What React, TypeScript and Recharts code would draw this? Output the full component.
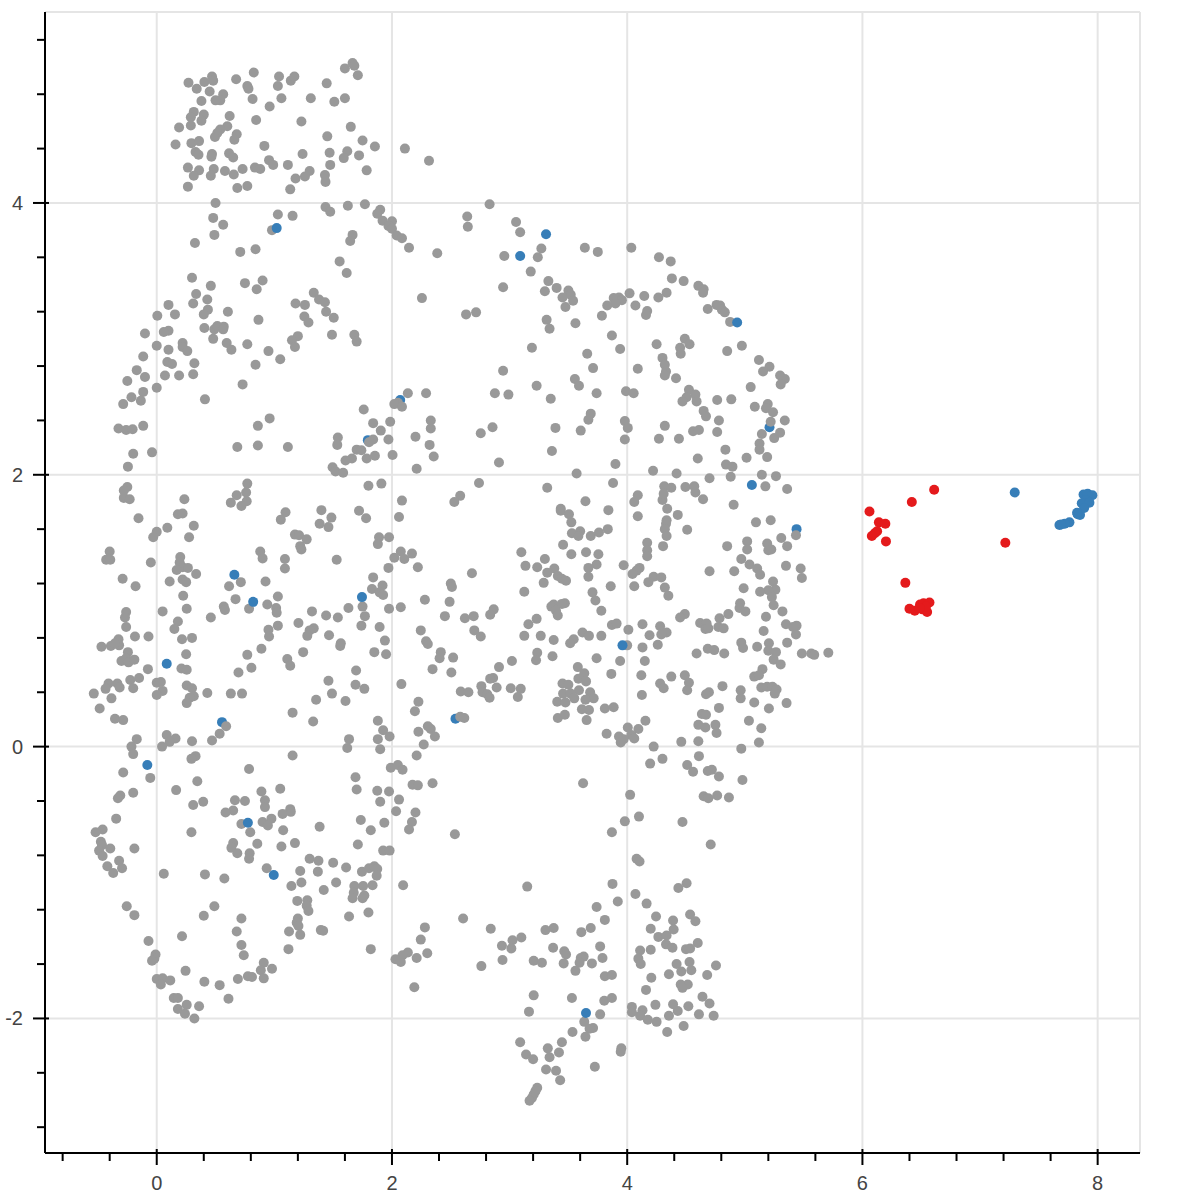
import { CartesianGrid, Scatter, ScatterChart, XAxis, YAxis } from "recharts";

type Pt = [number, number];

const xTicks = [-0.8, -0.4, 0, 0.4, 0.8, 1.2, 1.6, 2, 2.4, 2.8, 3.2, 3.6, 4, 4.4, 4.8, 5.2, 5.6, 6, 6.4, 6.8, 7.2, 7.6, 8];
const yTicks = [-2.8, -2.4, -2, -1.6, -1.2, -0.8, -0.4, 0, 0.4, 0.8, 1.2, 1.6, 2, 2.4, 2.8, 3.2, 3.6, 4, 4.4, 4.8, 5.2];
const xDomain = [-0.95, 8.36];
const yDomain = [-2.99, 5.405];
const xGrid = [0, 2, 4, 6, 8, 8.36];
const yGrid = [-2, 0, 2, 4, 5.405];

const grayTop: Pt[] = [
  [.27,4.885],[.34,4.84],[.405,4.89],[.47,4.93],[.48,4.90],[.45,4.82],[.675,4.91],[.825,4.96],[.77,4.86],[.78,4.84],
  [1.04,4.93],[1.03,4.86],[1.14,4.90],[1.17,4.93],[1.445,4.88],[1.60,4.99],[1.665,5.03],[1.68,5.01],[1.71,4.94],[.565,4.80],
  [.54,4.755],[.50,4.755],[.38,4.75],[.815,4.765],[1.06,4.77],[1.31,4.77],[1.51,4.745],[1.60,4.77],[.96,4.71],[.315,4.67],
  [.29,4.63],[.40,4.65],[.38,4.605],[.62,4.64],[.845,4.61],[1.23,4.60],[.19,4.555],[.29,4.57],[.60,4.565],[.54,4.54],
  [.515,4.515],[.495,4.485],[.68,4.505],[.66,4.465],[1.65,4.56],[1.45,4.49],[.16,4.43],[.295,4.44],[.36,4.455],[.915,4.42],
  [1.75,4.46],[1.855,4.415],[.33,4.375],[.355,4.355],[.47,4.36],[.465,4.34],[.615,4.365],[.65,4.335],[1.24,4.36],[1.47,4.37],
  [1.62,4.38],[1.59,4.33],[1.72,4.35],[.955,4.315],[.99,4.28],[1.115,4.28],[1.475,4.28],[.265,4.26],[.36,4.24],[.315,4.20],
  [.485,4.25],[.46,4.20],[.58,4.235],[.655,4.21],[.73,4.25],[.835,4.26],[.88,4.25],[1.30,4.235],[1.26,4.195],[1.18,4.18],
  [1.785,4.24],[1.43,4.205],[1.435,4.155],[.265,4.12],[.685,4.11],[.77,4.125],[1.135,4.10],[2.11,4.40],[2.315,4.31],
  [.50,4.00],[1.435,3.97],[1.475,3.935],[1.625,3.98],[1.77,3.99],[1.90,3.95],[1.875,3.92],[.48,3.89],[.565,3.84],[1.03,3.915],
  [1.155,3.905],[.98,3.80],[1.92,3.87],[2.00,3.865],[1.97,3.83],[2.00,3.81],[2.04,3.76],[2.085,3.74],[.49,3.765],[.325,3.705],
  [1.665,3.765],[1.645,3.72],[.71,3.64],[.84,3.66],[1.555,3.57],[1.615,3.485],[.30,3.45],[.46,3.39],[.75,3.41],[.90,3.43],
  [.85,3.365],[.335,3.33],[.43,3.29],[1.335,3.34],[2.145,3.67],[2.385,3.63],
];

const grayUpperLeft: Pt[] = [
  [.31,3.26],[.435,3.215],[.40,3.18],[.605,3.20],[.10,3.25],[.155,3.18],[.005,3.17],[.865,3.14],[1.18,3.26],[1.26,3.25],
  [1.38,3.29],[1.43,3.27],[1.44,3.20],[1.255,3.165],[1.29,3.12],[1.505,3.155],[.405,3.08],[.49,3.07],[.515,3.095],[.57,3.09],
  [.565,3.07],[.10,3.06],[.06,3.05],[-.10,3.04],[1.68,3.03],[1.70,2.98],[1.49,3.03],[1.20,3.02],[1.15,2.99],[1.175,2.94],
  [.48,3.00],[.595,2.97],[.635,2.92],[.77,2.96],[.95,2.91],[1.05,2.85],[.84,2.81],[0,2.95],[.22,2.97],[.22,2.94],
  [.26,2.91],[.10,2.92],[-.115,2.87],[.09,2.83],[.13,2.815],[.32,2.82],[-.17,2.77],[-.10,2.72],[.07,2.73],[.19,2.73],
  [.31,2.74],[-.25,2.69],[-.115,2.61],[0,2.64],[-.215,2.57],[-.135,2.545],[-.285,2.52],[.73,2.665],[.41,2.555],[2.135,2.60],
  [2.05,2.53],[2.02,2.52],[2.085,2.50],[1.76,2.48],[1.84,2.38],[1.985,2.39],[1.905,2.325],[1.97,2.26],[2.20,2.28],[.96,2.415],
  [.86,2.36],[-.325,2.34],[-.26,2.33],[-.205,2.335],[-.115,2.36],[1.54,2.275],[1.535,2.22],[1.84,2.26],[1.805,2.24],[.685,2.205],
  [.86,2.215],[1.115,2.205],[-.20,2.155],[-.04,2.165],[1.70,2.185],[1.74,2.18],[2.005,2.145],[1.785,2.12],[1.855,2.14],[1.66,2.12],
  [1.605,2.105],[-.245,2.06],[1.495,2.055],[1.52,2.025],[1.585,2.015],[2.21,2.045],[-.25,1.91],[-.28,1.885],[-.28,1.83],[-.23,1.82],
  [.77,1.935],[.76,1.87],[.68,1.85],[.765,1.805],[.72,1.77],[.63,1.795],[.235,1.82],[1.80,1.92],[1.91,1.935],[2.085,1.81],
  [1.095,1.725],[1.055,1.67],[1.40,1.74],[1.485,1.685],[1.385,1.64],[1.46,1.615],[1.72,1.735],[1.78,1.68],[2.06,1.69],[-.155,1.68],
  [.18,1.71],[.22,1.715],[.09,1.61],[.315,1.625],[0,1.58],[-.03,1.54],[.275,1.54],[1.175,1.56],[1.21,1.555],[1.275,1.525],
  [1.89,1.54],[1.975,1.54],
];

const grayMiddleLeft: Pt[] = [
  [1.88,1.49],[1.22,1.475],[1.23,1.45],[-.40,1.435],[-.43,1.375],[-.395,1.375],[-.05,1.355],[.20,1.395],[.195,1.355],[.22,1.32],
  [.265,1.315],[.17,1.30],[.335,1.27],[-.29,1.235],[-.18,1.18],[.11,1.215],[.22,1.23],[.25,1.21],[.88,1.435],[.90,1.385],
  [1.09,1.38],[1.09,1.31],[1.53,1.375],[.715,1.21],[.615,1.18],[.925,1.215],[2.075,1.435],[2.02,1.39],[2.105,1.38],[2.17,1.42],
  [2.22,1.32],[1.97,1.315],[1.84,1.245],[1.92,1.185],[1.83,1.16],[1.895,1.135],[1.925,1.115],[1.75,1.03],[1.63,1.02],[1.77,.96],
  [1.54,.95],[1.44,.965],[1.32,.995],[1.975,1.015],[2.075,1.025],[.225,1.11],[.255,1.015],[.05,.995],[-.26,.99],[-.27,.95],
  [-.26,.88],[.67,1.085],[.57,1.03],[.58,1.005],[.46,.95],[.785,1.015],[.94,1.045],[1.03,1.105],[1.015,1.02],[1.02,.985],
  [1.03,.89],[1.205,.91],[.95,.86],[.955,.81],[1.335,.87],[1.30,.855],[1.28,.815],[1.465,.82],[1.74,.89],[1.895,.88],
  [1.94,.78],[1.565,.76],[1.56,.74],[1.85,.695],[1.95,.68],[.18,.92],[.15,.865],[.215,.79],[.30,.80],[-.185,.81],
  [-.07,.81],[-.325,.79],[-.32,.745],[-.39,.74],[-.47,.735],[-.355,.76],[-.245,.695],[.25,.68],[.89,.72],[.77,.675],
  [1.245,.695],[1.11,.645],[1.135,.595],[-.30,.63],[-.26,.65],[-.24,.62],[-.19,.64],[-.075,.57],[.21,.575],[.255,.565],
  [.805,.58],[.695,.545],[1.695,.56],[1.46,.485],[1.69,.455],[1.765,.425],[2.08,.46],[-.41,.465],[-.335,.465],[-.315,.435],
  [-.435,.425],[-.535,.39],[-.225,.49],[-.15,.505],[-.20,.43],[-.385,.355],[-.485,.28],[0,.47],[.035,.475],[.05,.41],
  [0,.38],[.255,.45],[.30,.43],[.315,.37],[.28,.36],[.255,.32],[.43,.395],[.63,.39],[.725,.39],[1.49,.39],
  [1.355,.345],[1.605,.335],[2.225,.33],[2.195,.26],[1.155,.25],[1.33,.185],[1.88,.19],[2.225,.11],[-.355,.205],[-.285,.195],
  [.59,.15],[.535,.095],[.47,.045],[1.925,.12],[1.98,.075],[1.88,.055],[1.635,.055],[-.17,.055],[-.215,0],[-.20,-.055],
  [.085,.085],[.16,.06],[.11,.035],[.045,0],[.30,.04],[1.62,-.01],[1.90,-.02],[1.155,-.065],[2.21,-.065],[.33,-.07],[.295,-.09],
];

const grayLowerLeft: Pt[] = [
  [1.99,-.155],[2.05,-.135],[2.09,-.17],[.785,-.165],[-.285,-.19],[-.055,-.23],[1.69,-.225],[.345,-.255],[.165,-.32],[1.70,-.315],
  [2.175,-.28],[2.22,-.285],[1.875,-.325],[1.975,-.33],[-.20,-.34],[-.31,-.36],[-.33,-.38],[.89,-.33],[1.05,-.31],[.665,-.395],
  [.75,-.40],[.92,-.395],[.92,-.445],[.395,-.405],[.31,-.43],[2.06,-.39],[1.90,-.405],[1.135,-.46],[1.14,-.48],[1.07,-.495],
  [.65,-.47],[.585,-.485],[2.035,-.475],[2.20,-.485],[-.345,-.53],[1.735,-.54],[1.935,-.56],[2.17,-.555],[2.145,-.61],[1.82,-.615],
  [1.385,-.59],[.90,-.555],[.975,-.53],[.945,-.58],[.72,-.57],[.795,-.63],[1.075,-.615],[-.46,-.61],[-.52,-.63],[.295,-.63],
  [-.475,-.70],[-.465,-.725],[-.49,-.765],[-.395,-.75],[-.46,-.805],[-.19,-.75],[.65,-.71],[.635,-.745],[.685,-.785],[.855,-.715],
  [1.06,-.735],[1.175,-.71],[1.71,-.72],[.79,-.785],[.785,-.825],[1.925,-.765],[1.98,-.765],[-.32,-.84],[-.42,-.88],[-.295,-.895],
  [-.37,-.93],[1.30,-.825],[1.375,-.84],[1.50,-.855],[1.61,-.89],[.935,-.895],[1.22,-.915],[1.37,-.92],[1.745,-.92],[1.805,-.895],
  [1.85,-.88],[1.875,-.90],[1.87,-.95],[.06,-.935],[.41,-.94],[.575,-.97],[1.23,-1.0],[1.145,-1.025],[1.525,-1.0],[1.42,-1.055],
  [1.68,-1.025],[1.755,-1.025],[1.835,-1.02],[2.095,-1.02],[1.675,-1.075],[1.765,-1.095],[1.665,-1.115],[1.75,-1.115],[1.28,-1.13],[1.195,-1.135],
  [1.275,-1.17],[1.29,-1.21],[-.255,-1.175],[-.19,-1.24],[.49,-1.175],[.40,-1.245],[.72,-1.265],[1.635,-1.25],[1.80,-1.22],[1.20,-1.265],
  [1.19,-1.295],[1.205,-1.32],[1.125,-1.36],[1.22,-1.385],[1.395,-1.35],[1.415,-1.355],[.68,-1.36],[.215,-1.395],[-.07,-1.43],[.72,-1.46],
  [1.12,-1.49],[1.82,-1.49],[2.245,-1.42],[.74,-1.535],[-.01,-1.53],[-.02,-1.56],[-.04,-1.575],[2.135,-1.515],[2.09,-1.535],[2.03,-1.565],
  [2.075,-1.585],[2.21,-1.555],[.91,-1.59],[.98,-1.635],[.885,-1.645],[.245,-1.65],[0,-1.71],[.05,-1.705],[.115,-1.72],[.035,-1.75],
  [.405,-1.73],[.535,-1.755],[.69,-1.71],[.775,-1.69],[.81,-1.695],[.91,-1.705],[2.19,-1.77],[.145,-1.85],[.18,-1.85],[.61,-1.855],
  [.255,-1.90],[.18,-1.93],[.24,-1.965],[.36,-1.91],[.32,-2.0],
];

const grayUpperRight: Pt[] = [
  [2.83,3.99],[2.64,3.90],[2.645,3.825],[3.055,3.86],[3.09,3.785],[2.955,3.61],[3.27,3.665],[3.24,3.60],[3.18,3.495],[3.64,3.67],
  [3.75,3.64],[4.035,3.67],[4.27,3.60],[4.37,3.57],[4.38,3.445],[4.48,3.425],[3.33,3.425],[2.945,3.38],[3.30,3.35],[3.40,3.375],
  [3.50,3.355],[3.52,3.325],[3.45,3.305],[3.54,3.28],[3.475,3.235],[2.255,3.30],[2.63,3.18],[2.715,3.195],[4.02,3.335],[3.93,3.305],
  [3.885,3.30],[3.955,3.285],[3.90,3.26],[3.83,3.245],[4.145,3.315],[4.07,3.245],[4.335,3.34],[4.265,3.305],[4.17,3.205],[4.16,3.175],
  [3.785,3.17],[4.605,3.39],[4.65,3.365],[4.645,3.34],[4.685,3.22],[4.76,3.25],[4.79,3.245],[4.805,3.215],[4.83,3.195],[4.875,3.125],
  [3.315,3.14],[3.34,3.075],[3.56,3.115],[3.87,3.025],[3.94,2.925],[3.19,2.935],[3.66,2.89],[3.71,2.785],[4.09,2.78],[2.945,2.765],
  [4.25,2.96],[4.49,3.0],[4.53,2.96],[4.45,2.935],[4.455,2.89],[4.30,2.86],[4.32,2.81],[4.33,2.76],[4.32,2.73],[4.415,2.71],
  [4.975,2.95],[4.85,2.91],[5.12,2.845],[5.21,2.795],[5.155,2.76],[5.30,2.73],[5.34,2.705],[5.305,2.665],[5.05,2.645],[3.555,2.705],
  [3.59,2.655],[3.23,2.655],[2.29,2.60],[2.875,2.60],[2.99,2.59],[3.35,2.56],[3.74,2.60],[3.99,2.615],[4.055,2.60],[4.525,2.625],
  [4.58,2.59],[4.505,2.57],[4.47,2.54],[4.59,2.54],[4.765,2.55],[4.885,2.555],[5.085,2.50],[5.195,2.52],[5.18,2.49],[5.24,2.46],
  [4.65,2.47],[4.67,2.43],[3.69,2.45],[3.67,2.405],[2.33,2.40],[2.33,2.34],[4.78,2.40],[5.22,2.39],[5.34,2.40],[3.98,2.395],
  [4.005,2.345],[2.855,2.35],[2.755,2.305],[3.39,2.345],[3.605,2.325],[4.32,2.36],[4.56,2.32],[4.61,2.33],[4.765,2.315],[5.145,2.30],
  [5.30,2.31],[5.25,2.27],[3.98,2.26],[4.27,2.265],[4.44,2.265],[2.32,2.22],[5.125,2.23],[5.125,2.185],[3.36,2.175],[4.835,2.185],
  [2.355,2.135],[4.60,2.12],[5.015,2.125],[5.19,2.13],[2.91,2.09],[3.90,2.08],[4.84,2.075],[4.895,2.06],[4.22,2.03],[3.57,2.01],
  [4.42,2.01],[5.145,2.0],[5.265,1.99],[4.88,1.985],[4.70,1.975],[2.74,1.94],[3.88,1.94],[3.32,1.905],[5.175,1.915],[5.36,1.895],
  [4.315,1.915],[4.375,1.905],[4.495,1.91],[4.57,1.915],
];

const grayMiddleRight: Pt[] = [
  [2.58,1.845],[2.53,1.80],[4.58,1.87],[4.645,1.82],[4.09,1.85],[4.06,1.80],[4.30,1.815],[4.31,1.86],[3.645,1.805],[4.905,1.78],
  [3.84,1.74],[3.435,1.75],[3.435,1.735],[3.505,1.71],[3.525,1.65],[4.34,1.75],[4.43,1.705],[4.09,1.695],[4.335,1.665],[4.33,1.64],
  [4.32,1.60],[4.335,1.55],[4.51,1.595],[5.095,1.65],[5.22,1.665],[5.435,1.555],[3.53,1.57],[3.60,1.585],[3.585,1.55],[3.69,1.55],
  [3.76,1.575],[3.835,1.60],[5.31,1.535],[5.02,1.51],[5.02,1.45],[4.85,1.475],[5.19,1.495],[5.36,1.475],[5.20,1.445],[5.225,1.45],
  [4.17,1.50],[4.17,1.445],[4.17,1.40],[4.305,1.475],[3.455,1.485],[3.525,1.415],[3.65,1.43],[3.755,1.415],[3.10,1.43],[4.97,1.38],
  [3.30,1.38],[3.135,1.33],[3.235,1.32],[3.38,1.31],[3.32,1.28],[3.74,1.34],[3.67,1.315],[3.97,1.335],[5.04,1.34],[5.105,1.31],
  [5.35,1.33],[5.475,1.31],[5.485,1.24],[2.68,1.275],[4.105,1.315],[4.08,1.295],[4.045,1.27],[4.70,1.29],[4.91,1.29],[5.13,1.265],
  [3.67,1.25],[3.41,1.255],[3.445,1.235],[3.48,1.22],[3.29,1.205],[4.225,1.25],[4.29,1.245],[4.18,1.21],[5.24,1.215],[2.50,1.20],
  [2.51,1.175],[4.06,1.18],[3.86,1.18],[4.32,1.17],[4.99,1.165],[5.26,1.155],[5.20,1.15],[5.13,1.14],[3.125,1.14],[3.705,1.135],
  [4.35,1.11],[5.23,1.10],[3.73,1.075],[2.28,1.08],[2.49,1.065],[4.96,1.055],[5.245,1.04],[3.47,1.055],[3.445,1.05],[3.375,1.045],
  [3.355,1.03],[4.955,1.02],[5.005,.995],[5.32,.995],[2.865,1.01],[2.835,.97],[3.78,1.0],[3.395,1.0],[3.41,.965],[4.86,.975],
  [4.49,.975],[4.45,.95],[2.45,.96],[2.62,.945],[2.695,.96],[3.23,.94],[5.18,.955],[4.785,.945],[4.62,.91],[4.675,.905],
  [4.665,.865],[4.69,.87],[5.35,.90],[5.44,.89],[5.41,.88],[4.775,.88],[4.82,.87],[3.16,.90],[3.87,.895],[3.91,.905],
  [4.13,.90],[4.28,.885],[2.245,.855],[4.01,.86],[5.435,.825],[5.16,.85],[2.70,.855],[2.755,.81],[3.62,.84],[3.675,.815],
  [3.78,.815],[3.125,.815],[3.265,.815],[4.19,.82],[4.335,.84],[4.29,.825],[3.375,.785],[3.545,.79],[3.515,.76],[2.29,.775],
  [2.305,.755],[4.0,.745],[4.13,.73],[4.26,.75],[4.97,.765],[4.985,.725],[5.105,.735],[5.205,.76],[5.36,.765],[4.685,.72],
  [4.74,.71],[4.59,.685],[4.825,.685],[5.20,.705],[5.265,.695],[5.485,.685],[5.565,.685],[5.59,.675],[5.71,.69],[2.415,.695],
  [2.405,.65],[2.52,.655],[3.235,.69],[3.225,.635],[3.365,.665],[3.02,.63],[3.74,.65],[3.94,.63],[4.15,.63],[5.245,.64],
  [5.305,.605],[3.58,.585],[2.91,.585],[2.345,.57],[2.505,.545],[5.15,.57],[3.635,.54],[3.865,.535],[4.12,.525],[4.49,.525],
  [2.86,.505],[2.835,.50],[5.08,.515],[5.12,.525],[3.585,.50],[3.65,.48],[4.375,.515],[4.525,.47],[4.28,.465],[4.31,.43],
  [4.81,.445],[3.45,.465],[3.50,.455],[2.76,.445],[2.89,.435],[3.01,.43],[3.095,.425],[2.585,.405],[2.65,.40],[2.77,.40],
  [2.81,.385],[2.83,.36],[3.07,.365],[4.51,.415],[5.14,.435],[5.19,.44],[5.235,.44],[5.27,.42],[5.255,.39],[4.965,.415],
  [4.965,.355],[4.695,.40],[4.67,.385],[3.59,.415],[3.455,.39],[3.52,.39],[3.55,.355],[3.685,.40],[3.715,.355],[3.645,.345],
  [4.125,.38],[3.405,.33],[3.475,.325],[5.08,.325],[5.355,.32],[4.78,.285],[5.205,.28],[3.615,.275],[3.675,.27],[3.81,.28],
  [3.885,.29],[4.635,.24],[4.67,.235],[3.41,.21],[3.47,.235],[2.58,.22],[2.615,.21],[3.655,.195],[4.155,.19],[5.035,.19],
  [4.605,.16],[4.665,.14],[4.75,.16],[4.76,.10],[5.14,.135],[2.305,.15],[2.33,.13],[2.365,.075],[2.27,.015],[3.825,.095],
  [4.005,.14],[4.095,.13],[3.93,.075],[4.035,.085],[4.06,.06],[3.97,.055],[3.945,.03],[4.605,.04],[4.46,.035],[5.12,.03],
  [4.225,0],[4.97,-.015],[4.61,-.07],[4.30,-.09],[4.195,-.125],[4.51,-.135],
];

const grayLowerRight: Pt[] = [
  [4.56,-.185],[4.685,-.18],[4.72,-.17],[4.78,-.22],[4.98,-.245],[2.345,-.27],[3.625,-.27],[4.025,-.355],[4.65,-.365],[4.69,-.38],
  [4.765,-.36],[4.865,-.375],[4.10,-.515],[3.98,-.55],[4.47,-.555],[3.87,-.63],[2.535,-.645],[4.71,-.72],[4.08,-.825],[4.105,-.845],
  [3.15,-1.03],[3.875,-1.01],[4.505,-1.005],[4.435,-1.04],[4.07,-1.085],[3.92,-1.14],[4.165,-1.155],[3.74,-1.18],[4.245,-1.25],[4.535,-1.235],
  [4.58,-1.285],[4.39,-1.28],[4.395,-1.345],[2.605,-1.265],[3.81,-1.275],[2.28,-1.33],[2.84,-1.34],[3.375,-1.335],[3.305,-1.35],[3.69,-1.335],
  [3.61,-1.365],[4.20,-1.34],[4.265,-1.40],[4.335,-1.39],[3.10,-1.405],[3.025,-1.425],[2.935,-1.465],[3.015,-1.485],[3.37,-1.48],[4.33,-1.455],
  [4.385,-1.48],[4.60,-1.445],[4.50,-1.49],[4.535,-1.485],[3.77,-1.47],[4.20,-1.495],[4.11,-1.50],[3.465,-1.505],[3.48,-1.53],[3.63,-1.545],
  [3.605,-1.555],[3.79,-1.555],[4.095,-1.56],[4.115,-1.60],[2.30,-1.52],[2.94,-1.57],[2.76,-1.615],[3.205,-1.575],[3.275,-1.59],[3.46,-1.595],
  [3.595,-1.59],[3.70,-1.595],[3.56,-1.65],[4.42,-1.60],[4.53,-1.585],[4.755,-1.61],[4.46,-1.655],[4.545,-1.645],[4.355,-1.675],[4.68,-1.68],
  [3.81,-1.69],[3.87,-1.68],[4.205,-1.70],[4.455,-1.75],[4.515,-1.75],[4.47,-1.775],[4.16,-1.79],[3.205,-1.83],[3.53,-1.85],[3.805,-1.87],
  [3.87,-1.85],[4.64,-1.84],[4.70,-1.89],[4.24,-1.90],[4.39,-1.895],[4.52,-1.91],[4.04,-1.915],[4.13,-1.94],[4.04,-1.955],[4.43,-1.945],
  [3.165,-1.95],[3.77,-1.97],[4.11,-1.98],[4.61,-1.97],[4.735,-1.98],[4.355,-1.98],[4.175,-2.01],[4.25,-2.025],[3.635,-2.025],[3.71,-2.07],
  [3.68,-2.075],[4.48,-2.055],[3.535,-2.10],[4.34,-2.10],[3.645,-2.135],[3.09,-2.175],[3.445,-2.175],[3.325,-2.22],[3.42,-2.25],[3.14,-2.265],
  [3.20,-2.30],[3.34,-2.285],[3.95,-2.22],[3.945,-2.245],[3.725,-2.355],[3.31,-2.375],[3.395,-2.385],[3.43,-2.455],[3.235,-2.51],[3.22,-2.535],
  [3.205,-2.56],[3.19,-2.585],[3.17,-2.605],
];

const blueBehind: Pt[] = [[2.07,2.55],[1.795,2.255],[5.21,2.35],[5.44,1.60],[.555,.18],[2.54,.205]];
const blueFront: Pt[] = [
  [1.02,3.815],[3.31,3.77],[3.09,3.61],[4.935,3.12],[5.06,1.925],[.66,1.265],[.82,1.065],[1.745,1.10],[.085,.61],[3.96,.745],
  [-.08,-.135],[.775,-.56],[.995,-.945],[3.65,-1.96],[7.295,1.87],[7.88,1.855],[7.915,1.86],[7.955,1.85],[7.90,1.815],[7.865,1.79],
  [7.93,1.795],[7.885,1.755],[7.83,1.71],[7.85,1.705],[7.825,1.72],[7.76,1.65],[7.72,1.64],[7.675,1.63],[7.69,1.635],
];
const redPoints: Pt[] = [
  [6.61,1.89],[6.42,1.80],[6.06,1.73],[6.14,1.65],[6.195,1.64],[6.125,1.585],[6.105,1.57],[6.08,1.55],[6.20,1.51],[7.215,1.50],
  [6.365,1.205],[6.40,1.015],[6.445,1.00],[6.49,1.045],[6.52,1.055],[6.51,1.01],[6.55,.99],[6.57,1.06],[6.54,1.03],[6.485,1.02],
];

const grayPoints = [
  ...grayTop, ...grayUpperLeft, ...grayMiddleLeft, ...grayLowerLeft,
  ...grayUpperRight, ...grayMiddleRight, ...grayLowerRight,
];

const toRows = (pts: Pt[]) => pts.map(([x, y]) => ({ x, y }));

const GRAY = "#999999";
const BLUE = "#377eb8";
const RED = "#e41a1c";

const dot = (fill: string) => (props: any) => (
  <circle cx={props.cx} cy={props.cy} r={5} fill={fill} />
);

const isMajor = (v: number) => Number.isInteger(v) && v % 2 === 0;

function XTick({ x, y, payload }: any) {
  const major = isMajor(payload.value);
  return (
    <g>
      <line x1={x} x2={x} y1={major ? y - 4 : y} y2={major ? y + 12 : y + 8} stroke="#000" strokeWidth={2} />
      {major && (
        <text x={x} y={y + 37} textAnchor="middle" fontSize={20} fontFamily="Liberation Sans" fill="#444">
          {payload.value}
        </text>
      )}
    </g>
  );
}

function YTick({ x, y, payload }: any) {
  const major = isMajor(payload.value);
  return (
    <g>
      <line x1={major ? x - 12 : x - 8} x2={major ? x + 4 : x} y1={y} y2={y} stroke="#000" strokeWidth={2} />
      {major && (
        <text x={x - 22} y={y + 7} textAnchor="end" fontSize={20} fontFamily="Liberation Sans" fill="#444">
          {payload.value}
        </text>
      )}
    </g>
  );
}

export default function App() {
  return (
    <div style={{ position: "absolute", left: 0, top: 0, width: 1200, height: 1200, background: "#fff" }}>
      <ScatterChart width={1200} height={1200} margin={{ top: 12, right: 60, bottom: 0, left: 0 }}>
        <CartesianGrid stroke="#e5e5e5" strokeWidth={2} horizontalValues={yGrid} verticalValues={xGrid} />
        <XAxis
          type="number"
          dataKey="x"
          domain={xDomain}
          ticks={xTicks}
          interval={0}
          height={47}
          tickSize={0}
          tickMargin={0}
          tickLine={false}
          tick={<XTick />}
          axisLine={{ stroke: "#000", strokeWidth: 2 }}
        />
        <YAxis
          type="number"
          dataKey="y"
          domain={yDomain}
          ticks={yTicks}
          interval={0}
          width={45}
          tickSize={0}
          tickMargin={0}
          tickLine={false}
          tick={<YTick />}
          axisLine={{ stroke: "#000", strokeWidth: 2 }}
        />
        <Scatter data={toRows(blueBehind)} shape={dot(BLUE)} isAnimationActive={false} />
        <Scatter data={toRows(grayPoints)} shape={dot(GRAY)} isAnimationActive={false} />
        <Scatter data={toRows(blueFront)} shape={dot(BLUE)} isAnimationActive={false} />
        <Scatter data={toRows(redPoints)} shape={dot(RED)} isAnimationActive={false} />
      </ScatterChart>
    </div>
  );
}
